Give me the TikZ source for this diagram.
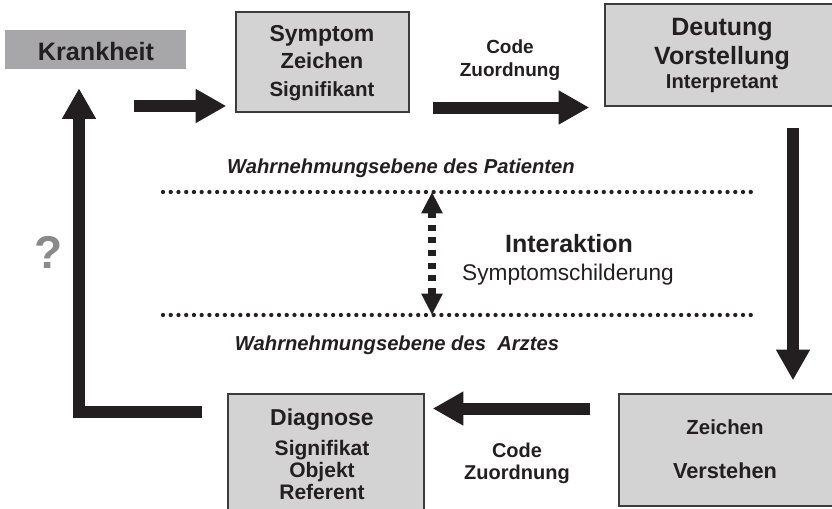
\documentclass[tikz,border=0pt]{standalone}
\usepackage{fontspec}
\setmainfont{Liberation Sans}
\usetikzlibrary{arrows.meta,fit}
\definecolor{boxgray}{HTML}{D3D3D3}
\definecolor{boxline}{HTML}{3C3C3C}
\definecolor{sickgray}{HTML}{A7A7A9}
\definecolor{asknote}{HTML}{8A8A8A}
\definecolor{textblack}{HTML}{231F20}
\newcommand{\fsz}[1]{\fontsize{#1}{#1}\selectfont}

\begin{document}
\begin{tikzpicture}
    [ x=.75pt, y=-.75pt,
      box/.style={draw=boxline, fill=boxgray, line width=1.1pt, inner sep=0pt},
      sick/.style={fill=sickgray, inner sep=0pt},
      word/.style={anchor=base, inner sep=0pt, text=textblack},
      fatarrow/.style={textblack, line width=9pt, line join=miter,
                       -{Triangle[length=23pt, width=24pt]}},
      level/.style={textblack, line width=3.2pt, line cap=round,
                    dash pattern=on 0pt off 5.8pt},
      talk/.style={textblack, line width=5.5pt, dash pattern=on 4.6pt off 4.9pt,
                   {Triangle[length=16pt, width=15pt]}-{Triangle[length=16pt, width=15pt]}}
    ]
    \useasboundingbox (0,0) rectangle (832,508);

    % Boxes
    \node[sick, fit={(5,30) (186,69)}] (krank) {};
    \node[box, fit={(236,12) (409,112)}] (symptom) {};
    \node[box, fit={(605,4) (840,106)}] (deutung) {};
    \node[box, fit={(619,394) (833,506)}] (verstehen) {};
    \node[box, fit={(228,394) (424,514)}] (diagnose) {};

    % Box texts
    \node[word, font=\bfseries\fsz{18.9}] (krank-1) at (96,60) {Krankheit};
    \foreach \name/\y/\size/\txt in {symptom-1/41.5/17.25/Symptom,
                                     symptom-2/68.5/16.4/Zeichen,
                                     symptom-3/96.5/15.4/Signifikant} {
        \node[word, font=\bfseries\fsz{\size}] (\name) at (322,\y) {\txt};
    }
    \foreach \name/\y/\size/\txt in {deutung-1/35/18.75/Deutung,
                                     deutung-2/64/18.75/Vorstellung,
                                     deutung-3/88/15.15/Interpretant} {
        \node[word, font=\bfseries\fsz{\size}] (\name) at (722,\y) {\txt};
    }
    \foreach \name/\y/\size/\txt in {diagnose-1/425/17.25/Diagnose,
                                     diagnose-2/455/15.75/Signifikat,
                                     diagnose-3/477/15.75/Objekt,
                                     diagnose-4/499/15.75/Referent} {
        \node[word, font=\bfseries\fsz{\size}] (\name) at (322,\y) {\txt};
    }
    \node[word, font=\bfseries\fsz{15.3}] (verstehen-1) at (725,434) {Zeichen};
    \node[word, font=\bfseries\fsz{16.3}] (verstehen-2) at (725,478) {Verstehen};

    % Code labels
    \node[word, font=\bfseries\fsz{14.25}] (code-top) at (510,53) {Code};
    \node[word, font=\bfseries\fsz{14.25}] (zuord-top) at (510,76) {Zuordnung};
    \node[word, font=\bfseries\fsz{15}] (code-bot) at (517,457) {Code};
    \node[word, font=\bfseries\fsz{15}] (zuord-bot) at (517,479) {Zuordnung};

    % Perception levels
    \coordinate (patient) at (163,192);
    \coordinate (arzt) at (163,315);
    \draw[level] (patient) -- ++(595,0);
    \draw[level] (arzt) -- ++(595,0);
    \node[word, font=\bfseries\itshape\fsz{15.15}] (patient-txt) at (401,173)
        {Wahrnehmungsebene des Patienten};
    \node[word, font=\bfseries\itshape\fsz{15.15}] (arzt-txt) at (397,350)
        {Wahrnehmungsebene des\ \ Arztes};

    % Interaction
    \coordinate (talk) at (432,0);
    \draw[talk] (talk |- patient) -- (talk |- arzt);
    \node[word, font=\bfseries\fsz{18.75}] (inter-1) at (569,252) {Interaktion};
    \node[word, font=\fsz{17}] (inter-2) at (568,280.5) {Symptomschilderung};
    \node[word, font=\bfseries\fsz{34.5}, text=asknote] (ask) at (49,268) {?};

    % Arrows
    \coordinate (k2s) at (134,106);
    \draw[fatarrow, shorten >=6.75pt] (k2s) -- (symptom.west |- k2s);
    \coordinate (s2d) at (0,107.5);
    \draw[fatarrow, shorten <=17.25pt, shorten >=11.25pt]
        (symptom.east |- s2d) -- (deutung.west |- s2d);
    \coordinate (d2v) at (793,0);
    \draw[fatarrow, shorten <=15.75pt, shorten >=9.75pt]
        (d2v |- deutung.south) -- (d2v |- verstehen.north);
    \coordinate (v2d) at (0,408.5);
    \draw[fatarrow, shorten <=21pt, shorten >=6pt]
        (verstehen.west |- v2d) -- (diagnose.east |- v2d);
    \coordinate (back) at (79,411.5);
    \draw[fatarrow, shorten >=14.25pt]
        ([xshift=-18.75pt]diagnose.west |- back) -- (back) -- (back |- krank.south);

\end{tikzpicture}
\end{document}
